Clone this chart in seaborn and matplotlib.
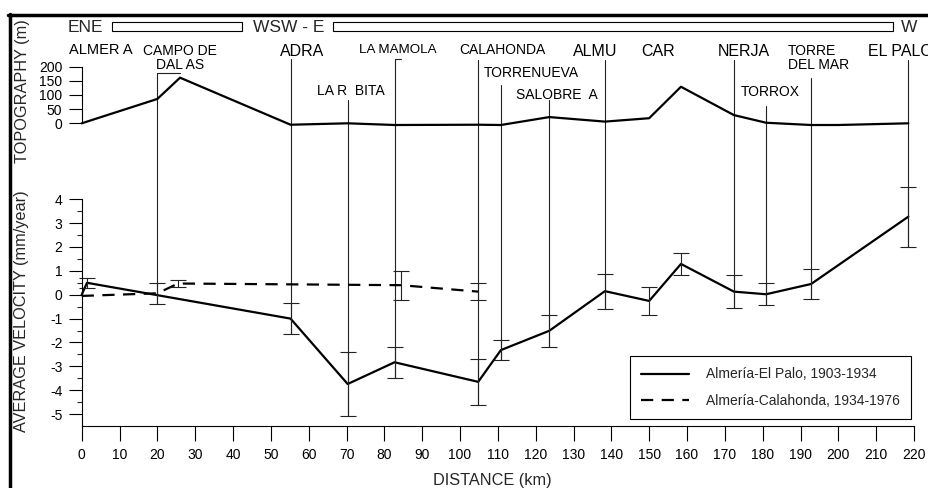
import numpy as np
import pandas as pd
import matplotlib
matplotlib.use("Agg")
import matplotlib.pyplot as plt
import seaborn as sns
from matplotlib.lines import Line2D
from matplotlib.patches import Rectangle
from matplotlib.ticker import FixedLocator

# ---------------- data ----------------
topo_km = [0, 20, 26, 55.2, 70.3, 82.8, 104.8, 110.8, 123.6, 138.3, 150, 158.4, 172.4, 180.9, 192.8, 200, 218.5]
topo_m = [0, 86, 161, -5, 0, -6, -5, -6, 22, 6, 18, 129, 29, 2, -6, -6, 0]

palo_km = [0, 1.4, 55.2, 70.3, 82.7, 104.8, 110.8, 123.6, 138.3, 150, 158.4, 172.4, 180.9, 192.8, 218.5]
palo_v = [0, 0.5, -1.0, -3.74, -2.83, -3.65, -2.32, -1.51, 0.15, -0.26, 1.29, 0.13, 0.02, 0.45, 3.27]
palo_err = [np.nan, 0.21, 0.66, 1.35, 0.64, 0.96, 0.43, 0.66, 0.73, 0.58, 0.45, 0.70, 0.46, 0.63, 1.26]

cala_km = [0, 20, 25.5, 84.4, 104.8]
cala_v = [-0.05, 0.06, 0.47, 0.40, 0.13]
cala_err = [np.nan, 0.43, 0.16, 0.60, 0.35]

series_labels = ["Almería-El Palo, 1903-1934", "Almería-Calahonda, 1934-1976"]

x_ticks = list(range(0, 221, 10))
vel_ticks = [-5, -4, -3, -2, -1, 0, 1, 2, 3, 4]
vel_minor = [-4.5, -3.5, -2.5, -1.5, -0.5, 0.5, 1.5, 2.5, 3.5]
topo_ticks = [0, 50, 100, 150, 200]

loc_km = [20, 55.2, 70.3, 82.8, 104.8, 110.8, 123.6, 138.3, 172.4, 180.9, 192.8, 218.5]
loc_hook = [26, None, None, 84.5, None, None, None, None, None, None, None, None]

# ---------------- layout ----------------
W, H = 929, 488
def fx(px):
    return px / W
def fy(py):
    return 1 - py / H

sns.set_theme(style="white")
plt.rcParams["font.family"] = ["Liberation Sans", "DejaVu Sans"]
plt.rcParams["axes.unicode_minus"] = False

fig = plt.figure(figsize=(W / 100, H / 100), dpi=100)
fig.patch.set_facecolor("white")

X0, X1 = 81.7, 914.0
ax = fig.add_axes([fx(X0), fy(426), (X1 - X0) / W, (426 - 180) / H])
ax_t = fig.add_axes([fx(X0), fy(150), (X1 - X0) / W, 110 / H])
for a in (ax, ax_t):
    a.set_facecolor("none")
ax_t.set_zorder(ax.get_zorder() + 1)

ax.set_xlim(0, 220)
ax.set_ylim(-5.5, 4.807)
ax_t.set_xlim(0, 220)
ax_t.set_ylim(-94.2, 294.0)

# ---- lower panel: velocities ----
palo_df = pd.DataFrame({"km": palo_km, "v": palo_v, "err": palo_err})
cala_df = pd.DataFrame({"km": cala_km, "v": cala_v, "err": cala_err})

sns.lineplot(data=palo_df, x="km", y="v", ax=ax, sort=False, color="black",
             lw=1.6, label=series_labels[0], clip_on=False, estimator=None)
sns.lineplot(data=cala_df, x="km", y="v", ax=ax, sort=False, color="black",
             lw=1.6, linestyle=(0, (5.5, 3.8)), label=series_labels[1],
             clip_on=False, estimator=None)

for df in (palo_df, cala_df):
    d = df[np.isfinite(df["err"])]
    ax.errorbar(d["km"], d["v"], yerr=d["err"], fmt="none", ecolor="#222222",
                elinewidth=0.8, capsize=6, capthick=0.8, clip_on=False)

# ---- topography ----
topo_df = pd.DataFrame({"km": topo_km, "m": topo_m})
sns.lineplot(data=topo_df, x="km", y="m", ax=ax_t, sort=False, color="black",
             lw=1.6, estimator=None, clip_on=False, legend=False)

# ---- axes styling ----
for s in ("top", "right"):
    ax.spines[s].set_visible(False)
ax.spines["left"].set_bounds(-5.5, 4)
ax.spines["bottom"].set_bounds(0, 220)
for s in ("left", "bottom"):
    ax.spines[s].set_color("black")
    ax.spines[s].set_linewidth(0.8)
ax.set_xticks(x_ticks)
ax.set_xticklabels([str(t) for t in x_ticks])
ax.set_yticks(vel_ticks)
ax.set_yticklabels([str(t) for t in vel_ticks])
ax.yaxis.set_minor_locator(FixedLocator(vel_minor))
ax.tick_params(axis="x", which="major", direction="out", length=10.8, width=0.8,
               pad=5, labelsize=10, colors="black", bottom=True)
ax.tick_params(axis="y", which="major", direction="out", length=9.4, width=0.8,
               pad=4.5, labelsize=10, colors="black", left=True)
ax.tick_params(axis="y", which="minor", direction="out", length=3.6, width=0.8,
               left=True)
ax.set_xlabel("")
ax.set_ylabel("")

for s in ("top", "right", "bottom"):
    ax_t.spines[s].set_visible(False)
ax_t.spines["left"].set_bounds(0, 200)
ax_t.spines["left"].set_color("black")
ax_t.spines["left"].set_linewidth(0.8)
ax_t.set_xticks([])
ax_t.set_yticks(topo_ticks)
ax_t.set_yticklabels([str(t) for t in topo_ticks])
ax_t.tick_params(axis="y", which="major", direction="out", length=9.4, width=0.8,
                 pad=4.5, labelsize=10, colors="black", left=True)
ax_t.set_xlabel("")
ax_t.set_ylabel("")

# ---- location lines ----
loc_top_px = [73, 59, 100, 59, 60, 85, 100, 60, 60, 106, 78, 60]

def fig_py_to_v(py):
    disp = fig.transFigure.transform((0, fy(py)))
    return ax.transData.inverted().transform(disp)[1]

all_km = np.array(palo_km + cala_km)
all_low = np.array([v - (e if np.isfinite(e) else 0) for v, e in zip(palo_v + cala_v, palo_err + cala_err)])
for xk, tp, hook in zip(loc_km, loc_top_px, loc_hook):
    near = np.abs(all_km - xk) < 0.6
    bottom = all_low[near].min() if near.any() else 0
    top = fig_py_to_v(tp)
    ax.plot([xk, xk], [bottom, top], color="#222222", lw=0.8, clip_on=False, zorder=1)
    if hook is not None:
        ax.plot([xk, hook], [top, top], color="#222222", lw=0.8, clip_on=False, zorder=1)

# ---- legend ----
leg = ax.legend(loc="lower right", bbox_to_anchor=(fx(910.7), fy(419)),
                bbox_transform=fig.transFigure, frameon=True, fancybox=False,
                edgecolor="black", framealpha=1, fontsize=10, handlelength=3.45,
                handletextpad=1.2, labelspacing=0.9, borderpad=0.8,
                borderaxespad=0)
leg.get_frame().set_linewidth(0.8)

# ---- place-name labels ----
big, med = 11.5, 10
labels = [
    ("ALMER A", 100.5, 50, 10.5, "center"),
    ("CAMPO DE\nDAL AS", 180, 58, med, "center"),
    ("ADRA", 302.5, 52, big, "center"),
    ("LA R  BITA", 351, 91, med, "center"),
    ("LA MAMOLA", 398, 50, 9.6, "center"),
    ("CALAHONDA", 502.5, 50, med, "center"),
    ("TORRENUEVA", 531.5, 73, med, "center"),
    ("SALOBRE  A", 556.5, 95, med, "center"),
    ("ALMU", 595.5, 52, big, "center"),
    ("CAR", 658.5, 52, big, "center"),
    ("NERJA", 744, 52, big, "center"),
    ("TORROX", 770, 92, med, "center"),
    ("TORRE\nDEL MAR", 788, 58, med, "left"),
    ("EL PALO", 868, 52, big, "left"),
]
for txt, px, py, fs, ha in labels:
    fig.text(fx(px), fy(py), txt, ha=ha, va="center", fontsize=fs,
             color="black", linespacing=1.05, multialignment=ha if ha != "center" else "center")

# ---- header with direction bars ----
fig.text(fx(68), fy(27), "ENE", ha="left", va="center", fontsize=12.5)
fig.text(fx(253), fy(27), "WSW - E", ha="left", va="center", fontsize=12.5)
fig.text(fx(901), fy(27), "W", ha="left", va="center", fontsize=12.5)
for r0, r1 in ((112, 242), (333, 893)):
    fig.add_artist(Rectangle((fx(r0), fy(31)), (r1 - r0) / W, 9 / H,
                             transform=fig.transFigure, facecolor="white",
                             edgecolor="black", lw=0.8))

# ---- axis titles ----
fig.text(fx(22.5), fy(91), "TOPOGRAPHY (m)", rotation=90, ha="center", va="center", fontsize=11.7)
fig.text(fx(21.7), fy(311.5), "AVERAGE VELOCITY (mm/year)", rotation=90, ha="center", va="center", fontsize=11.7)
fig.text(fx(492), fy(481), "DISTANCE (km)", ha="center", va="center", fontsize=11.7)

# ---- frame borders ----
fig.add_artist(Line2D([fx(9.8), fx(9.8)], [fy(13.5), 0], transform=fig.transFigure,
                      color="black", lw=2.5))
fig.add_artist(Line2D([fx(8.2), 1], [fy(15), fy(15)], transform=fig.transFigure,
                      color="black", lw=2.5))

fig.savefig("out.png", dpi=100)
